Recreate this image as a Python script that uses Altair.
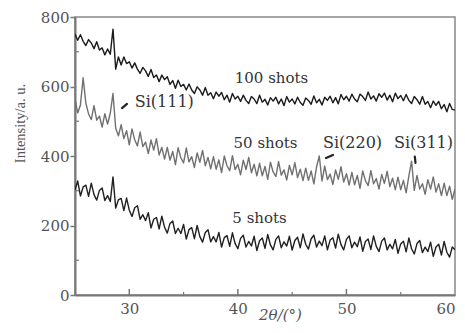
import altair as alt
import pandas as pd

# 2-theta grid (degrees), 0.25 deg step from 25 to 60
two_theta = [25 + 0.25 * i for i in range(141)]

shots_100 = [
    751, 733, 749, 730, 718, 735, 725, 709, 729, 705, 711, 691, 708, 693, 765, 650,
    685, 662, 685, 666, 671, 653, 668, 650, 638, 655, 645, 629, 649, 626, 633, 614,
    633, 620, 628, 606, 617, 595, 618, 600, 606, 590, 607, 590, 580, 599, 590, 575,
    597, 575, 582, 565, 584, 572, 583, 562, 575, 555, 580, 564, 572, 557, 575, 560,
    551, 571, 564, 551, 575, 555, 563, 547, 568, 558, 569, 550, 564, 545, 571, 555,
    564, 550, 569, 554, 546, 567, 560, 549, 573, 553, 563, 547, 569, 560, 572, 553,
    568, 550, 577, 562, 572, 558, 578, 564, 556, 578, 571, 560, 584, 564, 573, 558,
    579, 569, 581, 561, 575, 556, 581, 565, 574, 559, 577, 560, 551, 571, 562, 549,
    571, 549, 557, 539, 558, 546, 557, 536, 548, 527, 551, 534, 532,
]

shots_50 = [
    563, 524, 547, 625, 552, 521, 505, 545, 503, 515, 483, 522, 492, 523, 580, 480,
    458, 490, 450, 473, 432, 478, 447, 429, 469, 427, 440, 407, 446, 417, 450, 403,
    425, 391, 425, 388, 413, 375, 424, 395, 380, 423, 383, 398, 367, 409, 382, 416,
    372, 396, 363, 398, 362, 389, 352, 400, 372, 358, 401, 361, 376, 346, 388, 361,
    396, 352, 376, 343, 379, 343, 370, 333, 382, 354, 341, 384, 345, 360, 331, 373,
    346, 381, 338, 362, 329, 365, 330, 357, 320, 369, 400, 328, 371, 332, 348, 318,
    360, 333, 369, 325, 349, 316, 353, 317, 344, 307, 357, 329, 315, 358, 320, 335,
    305, 347, 321, 356, 312, 336, 303, 339, 303, 330, 294, 343, 385, 301, 344, 305,
    320, 290, 332, 305, 340, 296, 320, 286, 322, 286, 313, 275, 305,
]

shots_5 = [
    302, 328, 285, 311, 316, 284, 322, 289, 273, 301, 308, 272, 286, 269, 340, 250,
    274, 278, 243, 279, 244, 226, 251, 257, 218, 231, 214, 237, 193, 218, 223, 190,
    227, 195, 178, 206, 213, 177, 192, 177, 203, 161, 188, 194, 162, 200, 168, 152,
    180, 188, 153, 168, 153, 180, 138, 165, 171, 140, 179, 148, 133, 163, 172, 138,
    154, 141, 169, 128, 156, 164, 134, 174, 144, 130, 160, 170, 136, 153, 141, 169,
    129, 157, 166, 136, 176, 146, 132, 162, 172, 138, 155, 142, 170, 130, 158, 165,
    135, 175, 145, 130, 160, 170, 136, 152, 139, 167, 126, 154, 161, 131, 170, 140,
    125, 155, 164, 130, 146, 133, 160, 120, 147, 155, 124, 164, 133, 118, 148, 157,
    122, 138, 125, 152, 111, 138, 146, 115, 154, 123, 109, 138, 130,
]

series_names = ["100 shots", "50 shots", "5 shots"]
series_colors = ["#1a1a1a", "#707070", "#202020"]

x_ticks = [30, 40, 50, 60]
x_minor = [35, 45, 55]
y_ticks = [0, 200, 400, 600, 800]
y_minor = [100, 300, 500, 700]

# annotation texts (data coordinates)
shot_labels = pd.DataFrame({
    "two_theta": [43.1, 42.55, 42.0],
    "intensity": [624, 437, 222],
    "text": ["100 shots", "50 shots", "5 shots"],
})
si_left = pd.DataFrame({"two_theta": [30.5, 47.84], "intensity": [555, 437], "text": ["Si(111)", "Si(220)"]})
si_right = pd.DataFrame({"two_theta": [59.82], "intensity": [437], "text": ["Si(311)"]})
arrows = pd.DataFrame({
    "two_theta": [29.79, 48.76, 56.30],
    "intensity": [550, 403, 398],
    "two_theta_end": [29.33, 48.12, 56.36],
    "intensity_end": [538, 394, 380],
})

df = pd.DataFrame({
    "two_theta": two_theta * 3,
    "intensity": shots_100 + shots_50 + shots_5,
    "series": ["100 shots"] * len(shots_100) + ["50 shots"] * len(shots_50) + ["5 shots"] * len(shots_5),
})

x_scale = alt.Scale(domain=[25, 60], nice=False, zero=False)
y_scale = alt.Scale(domain=[0, 800], nice=False)

X = alt.X("two_theta:Q", scale=x_scale, axis=alt.Axis(
    values=x_ticks, title="2θ/(°)", ticks=False, tickSize=0, labelPadding=6,
    labelFont="DejaVu Serif", labelFontSize=15, labelColor="#555",
    domainColor="#777", domainWidth=2, grid=False,
    titleFont="DejaVu Serif", titleFontStyle="italic", titleFontSize=15,
    titleFontWeight="normal", titleColor="#555", titleX=205, titleY=19,
    titleBaseline="middle", titleAlign="center"))
Y = alt.Y("intensity:Q", scale=y_scale, axis=alt.Axis(
    values=y_ticks, title="Intensity/a. u.", tickSize=5, tickColor="#777", tickWidth=1.5,
    labelPadding=1, labelFont="DejaVu Serif", labelFontSize=15, labelColor="#555",
    labelBaseline="middle",
    domainColor="#777", domainWidth=2, grid=False,
    titleFont="Liberation Serif", titleFontSize=14.5, titleFontWeight="normal",
    titleColor="#555", titleX=-55, titleY=106, titleAngle=270,
    titleBaseline="middle", titleAlign="center"))

lines = alt.Chart(df).mark_line(strokeWidth=1.4, strokeJoin="round", clip=True).encode(
    x=X, y=Y,
    color=alt.Color("series:N", scale=alt.Scale(domain=series_names, range=series_colors), legend=None),
    detail="series:N",
)

xmaj = alt.Chart(pd.DataFrame({"two_theta": x_ticks[:-1]})).mark_rule(color="#777", strokeWidth=1.5).encode(
    x=X, y=alt.value(278), y2=alt.value(272))
xmin = alt.Chart(pd.DataFrame({"two_theta": x_minor})).mark_rule(color="#777", strokeWidth=1.2).encode(
    x=X, y=alt.value(278), y2=alt.value(275))
ymin = alt.Chart(pd.DataFrame({"intensity": y_minor})).mark_rule(color="#777", strokeWidth=1.2).encode(
    y=Y, x=alt.value(0), x2=alt.value(4))

shot_text = alt.Chart(shot_labels).mark_text(
    font="DejaVu Serif", fontSize=15, color="#333", align="center", baseline="middle").encode(
    x=X, y=Y, text="text:N")
si_text_l = alt.Chart(si_left).mark_text(
    font="DejaVu Serif", fontSize=16, color="#333", align="left", baseline="middle").encode(
    x=X, y=Y, text="text:N")
si_text_r = alt.Chart(si_right).mark_text(
    font="DejaVu Serif", fontSize=16, color="#333", align="right", baseline="middle").encode(
    x=X, y=Y, text="text:N")
arrow_rules = alt.Chart(arrows).mark_rule(color="#222", strokeWidth=2.2, strokeCap="round").encode(
    x=X, y=Y, x2="two_theta_end:Q", y2="intensity_end:Q")

chart = alt.layer(lines, xmaj, xmin, ymin, shot_text, si_text_l, si_text_r, arrow_rules).properties(
    width=380, height=278,
    autosize=alt.AutoSizeParams(type="none"),
    padding={"left": 67, "top": 9, "right": 2, "bottom": 30},
    background="white",
).configure_view(stroke="#888", strokeWidth=1.5)

chart.save("out.html", embed_options={"renderer": "svg", "actions": False})
